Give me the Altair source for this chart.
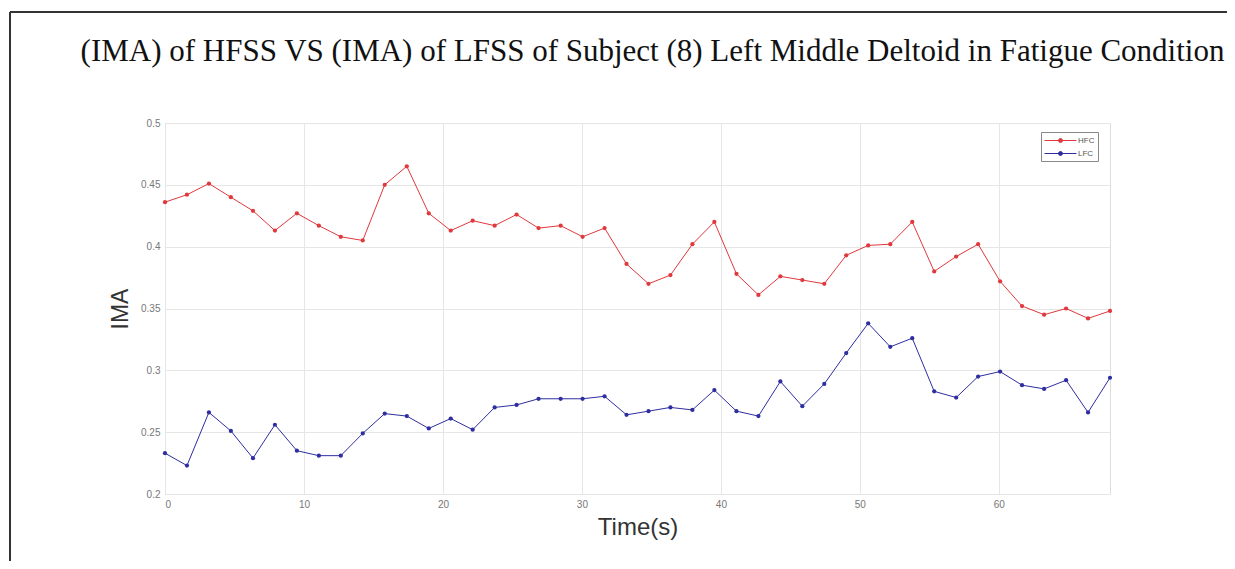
import altair as alt
import pandas as pd

time_s = [0.00, 1.58, 3.16, 4.74, 6.33, 7.91, 9.49, 11.07, 12.65, 14.23, 15.81,
          17.40, 18.98, 20.56, 22.14, 23.72, 25.30, 26.88, 28.47, 30.05, 31.63,
          33.21, 34.79, 36.37, 37.95, 39.53, 41.12, 42.70, 44.28, 45.86, 47.44,
          49.02, 50.60, 52.19, 53.77, 55.35, 56.93, 58.51, 60.09, 61.67, 63.26,
          64.84, 66.42, 68.00]

hfc = [0.436, 0.442, 0.451, 0.440, 0.429, 0.413, 0.427, 0.417, 0.408, 0.405, 0.450,
       0.465, 0.427, 0.413, 0.421, 0.417, 0.426, 0.415, 0.417, 0.408, 0.415,
       0.386, 0.370, 0.377, 0.402, 0.420, 0.378, 0.361, 0.376, 0.373, 0.370,
       0.393, 0.401, 0.402, 0.420, 0.380, 0.392, 0.402, 0.372, 0.352, 0.345,
       0.350, 0.342, 0.348]

lfc = [0.233, 0.223, 0.266, 0.251, 0.229, 0.256, 0.235, 0.231, 0.231, 0.249, 0.265,
       0.263, 0.253, 0.261, 0.252, 0.270, 0.272, 0.277, 0.277, 0.277, 0.279,
       0.264, 0.267, 0.270, 0.268, 0.284, 0.267, 0.263, 0.291, 0.271, 0.289,
       0.314, 0.338, 0.319, 0.326, 0.283, 0.278, 0.295, 0.299, 0.288, 0.285,
       0.292, 0.266, 0.294]

series_names = ["HFC", "LFC"]
series_colors = ["#e0383c", "#2e2ea0"]
y_ticks = [0.2, 0.25, 0.3, 0.35, 0.4, 0.45, 0.5]
x_ticks = [0, 10, 20, 30, 40, 50, 60]

rows = []
for name, vals in zip(series_names, [hfc, lfc]):
    for t, v in zip(time_s, vals):
        rows.append({"Time": t, "IMA": v, "Series": name})
df = pd.DataFrame(rows)

W, H = 945, 371

color = alt.Color(
    "Series:N",
    scale=alt.Scale(domain=series_names, range=series_colors),
    legend=alt.Legend(
        title=None,
        orient="none",
        legendX=876,
        legendY=9,
        symbolType="M-3.2,0L3.2,0M-0.4,0A0.4,0.4,0,1,1,0.4,0A0.4,0.4,0,1,1,-0.4,0Z",
        symbolSize=100,
        symbolStrokeWidth=1,
        symbolOffset=11,
        labelFont="Liberation Sans",
        labelFontSize=8,
        labelColor="#555555",
        rowPadding=3,
        padding=3,
        strokeColor="#888888",
        fillColor="white",
        labelOffset=12,
        offset=0,
    ),
)

x = alt.X("Time:Q", scale=alt.Scale(domain=[0, 68], nice=False),
          axis=alt.Axis(values=x_ticks, title="Time(s)", titleFontSize=24,
                        titleFont="Liberation Sans", titleFontWeight="normal",
                        titleColor="#333333", titlePadding=6,
                        labelFont="Liberation Sans", labelFontSize=10, labelColor="#777777",
                        labelPadding=5, ticks=False, domain=False,
                        gridColor="#e6e6e6"))
y = alt.Y("IMA:Q", scale=alt.Scale(domain=[0.2, 0.5], nice=False, zero=False),
          axis=alt.Axis(values=y_ticks, format=".2~f", title="IMA", titleFontSize=23,
                        titleFont="Liberation Sans", titleFontWeight="normal",
                        titleColor="#333333", titlePadding=8,
                        labelFont="Liberation Sans", labelFontSize=10, labelColor="#777777",
                        labelPadding=5, ticks=False, domain=False,
                        gridColor="#e6e6e6"))

lines = alt.Chart(df).mark_line(strokeWidth=1).encode(x=x, y=y, color=color)
points = alt.Chart(df).mark_point(filled=True, size=18, opacity=1).encode(x=x, y=y, color=color)

frame_v = alt.Chart(df).mark_rule(color="#333333", strokeWidth=2).encode(
    x=alt.value(-155), y=alt.value(-111), y2=alt.value(H + 80))
frame_h = alt.Chart(df).mark_rule(color="#333333", strokeWidth=2).encode(
    x=alt.value(-155), x2=alt.value(W + 130), y=alt.value(-111))

chart = alt.layer(frame_v, frame_h, lines, points).properties(
    width=W,
    height=H,
    padding={"left": 157, "top": 115, "right": 117, "bottom": 67},
    autosize=alt.AutoSizeParams(type="none"),
    title=alt.Title(
        "(IMA) of HFSS VS (IMA) of LFSS of Subject (8) Left Middle Deltoid in Fatigue Condition",
        font="Liberation Serif", fontSize=31, fontWeight="normal", color="#111111",
        anchor="middle", dx=15, offset=-81, baseline="alphabetic",
    ),
).configure_view(stroke="#999999", strokeWidth=1).configure(background="white")

chart.save("out.html", embed_options={"renderer": "svg", "actions": False})
